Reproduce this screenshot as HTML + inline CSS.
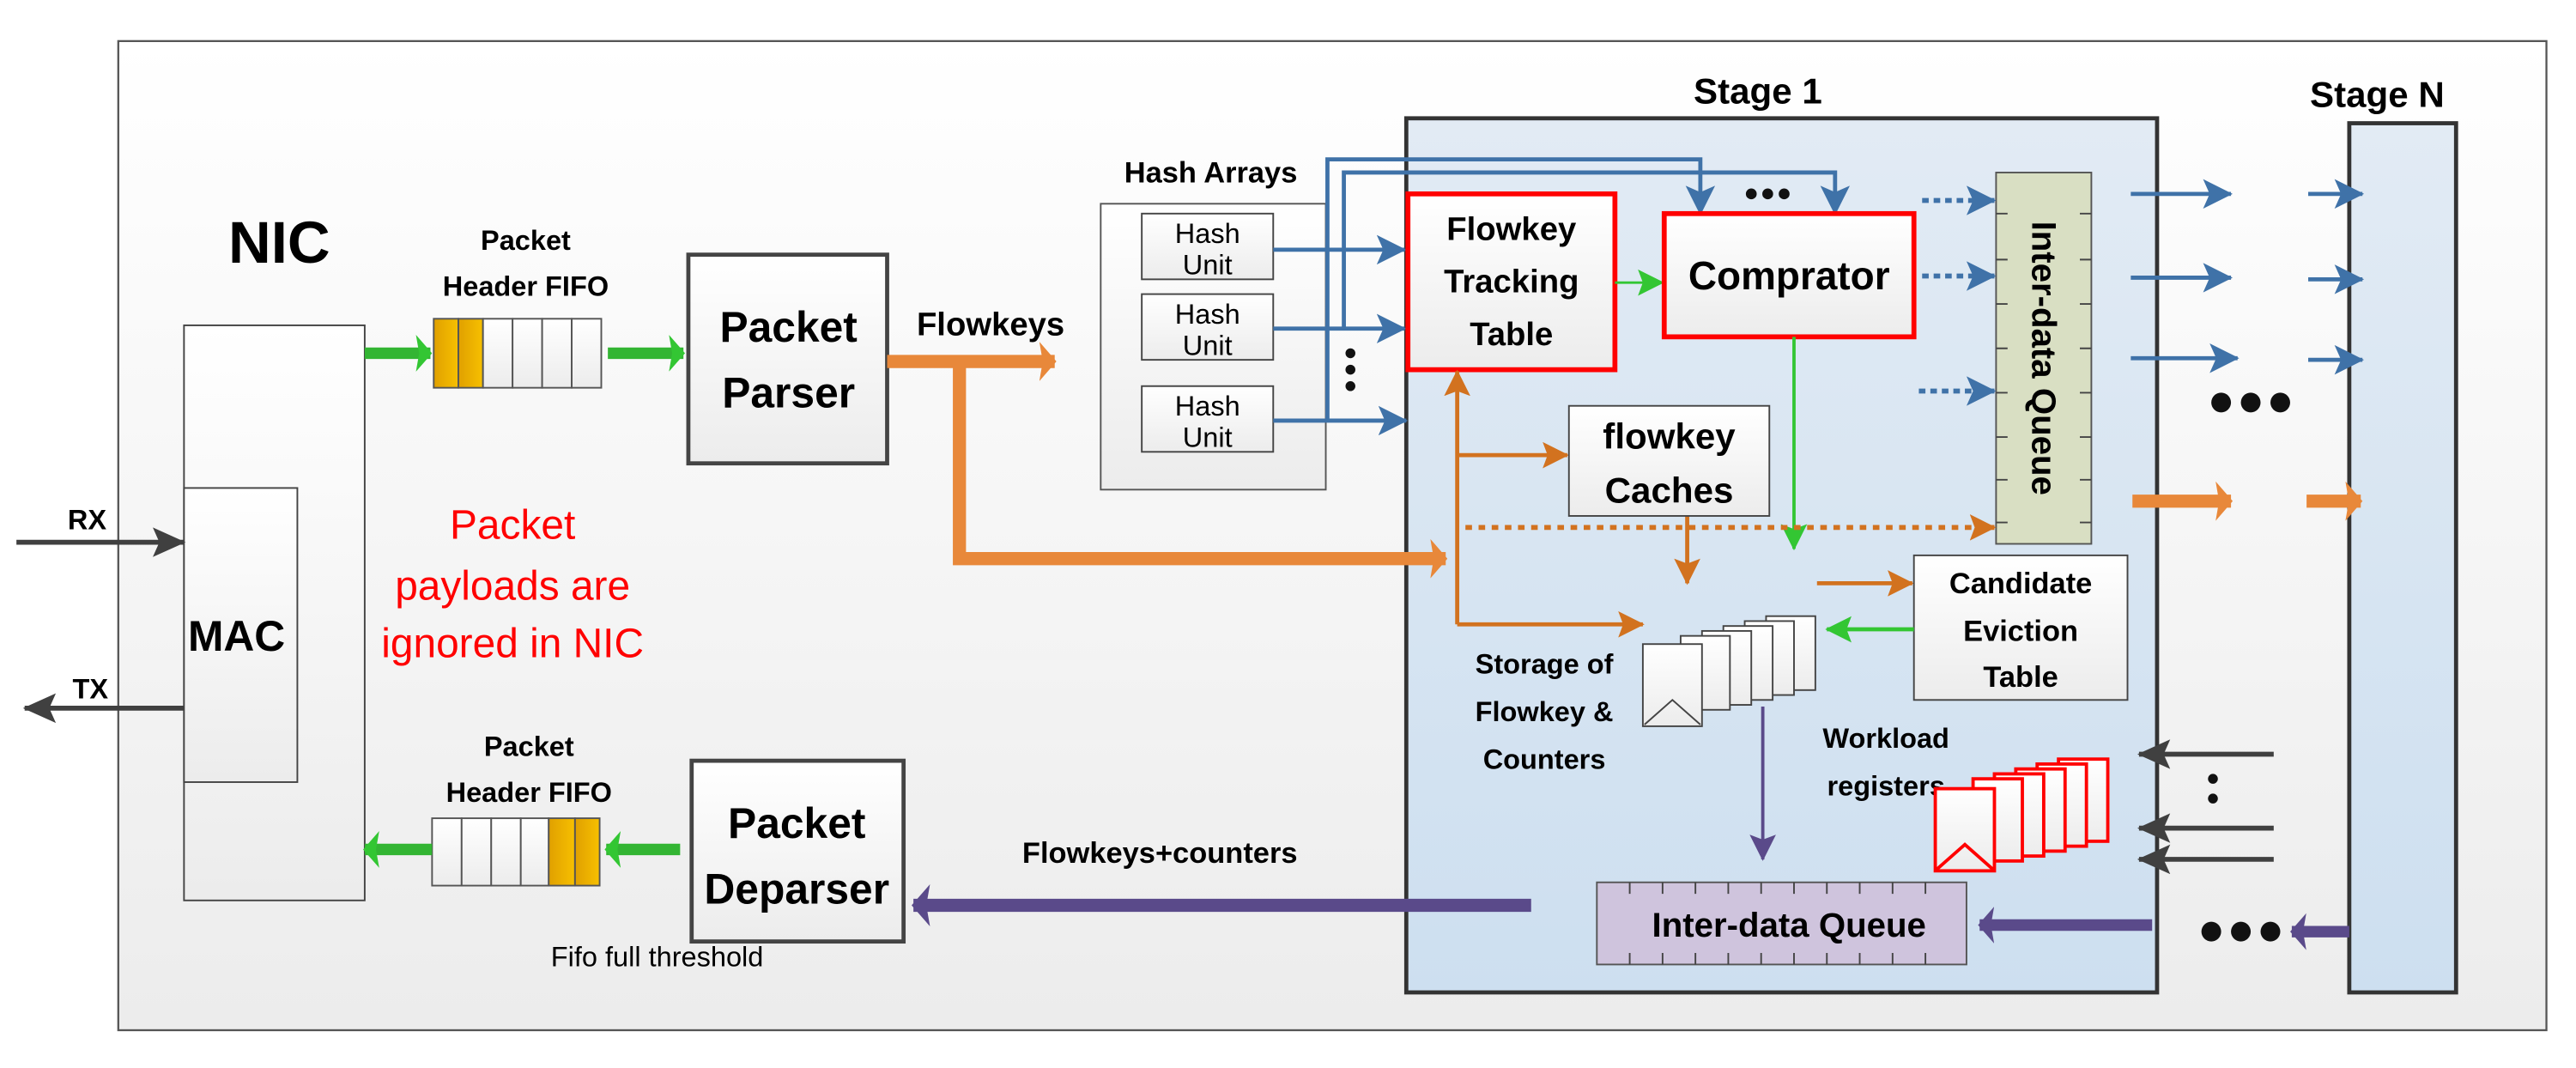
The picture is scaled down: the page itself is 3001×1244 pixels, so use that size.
<!DOCTYPE html>
<html><head><meta charset="utf-8"><style>
html,body{margin:0;padding:0;background:#fff}
svg{display:block}
text{font-family:"Liberation Sans",sans-serif}
.b{font-weight:bold}
</style></head><body>
<svg width="3001" height="1244" viewBox="0 0 1568 650" preserveAspectRatio="none" xmlns="http://www.w3.org/2000/svg">
<defs>
<linearGradient id="g1" x1="0" y1="0" x2="0" y2="1"><stop offset="0" stop-color="#ffffff"/><stop offset="1" stop-color="#ececec"/></linearGradient>
<linearGradient id="gb" x1="0" y1="0" x2="0" y2="1"><stop offset="0" stop-color="#e2ebf4"/><stop offset="1" stop-color="#cddff0"/></linearGradient>
<linearGradient id="gor" x1="0" y1="0" x2="1" y2="0"><stop offset="0" stop-color="#e0a000"/><stop offset="1" stop-color="#f7c000"/></linearGradient>
<marker id="abB" markerWidth="18" markerHeight="18" refX="17" refY="9" orient="auto" markerUnits="userSpaceOnUse"><path d="M0,0 L18,9 L0,18 L4,9z" fill="#3f72a8"/></marker>
<marker id="ao" markerWidth="16" markerHeight="16" refX="15" refY="8" orient="auto" markerUnits="userSpaceOnUse"><path d="M0,0 L16,8 L0,16 L3,8z" fill="#d2721f"/></marker>
<marker id="ag" markerWidth="16" markerHeight="16" refX="15" refY="8" orient="auto" markerUnits="userSpaceOnUse"><path d="M0,0 L16,8 L0,16 L3,8z" fill="#33c633"/></marker>
<marker id="ap" markerWidth="16" markerHeight="16" refX="15" refY="8" orient="auto" markerUnits="userSpaceOnUse"><path d="M0,0 L16,8 L0,16 L3,8z" fill="#5a4a8a"/></marker>
<marker id="ak" markerWidth="20" markerHeight="18" refX="19" refY="9" orient="auto" markerUnits="userSpaceOnUse"><path d="M0,0 L20,9 L0,18 L4,9z" fill="#404040"/></marker>
<marker id="agT" viewBox="0 0 10 20" markerWidth="1.4" markerHeight="3.2" refX="9" refY="10" orient="auto" preserveAspectRatio="none"><path d="M0,0 L10,10 L0,20 L2,10z" fill="#33c633"/></marker>
<marker id="aoT" viewBox="0 0 10 20" markerWidth="1.3" markerHeight="3" refX="9" refY="10" orient="auto" preserveAspectRatio="none"><path d="M0,0 L10,10 L0,20 L2,10z" fill="#e8883a"/></marker>
<marker id="apT" viewBox="0 0 10 20" markerWidth="1.4" markerHeight="3.2" refX="9" refY="10" orient="auto" preserveAspectRatio="none"><path d="M0,0 L10,10 L0,20 L2,10z" fill="#5a4a8a"/></marker>
</defs>
<rect x="72" y="25" width="1478" height="602" fill="url(#g1)" stroke="#555" stroke-width="1.2"/>
<text x="170" y="160" class="b" font-size="36" text-anchor="middle">NIC</text>
<rect x="112" y="198" width="110" height="350" fill="url(#g1)" stroke="#444" stroke-width="1"/>
<rect x="112" y="297" width="69" height="179" fill="url(#g1)" stroke="#444" stroke-width="1"/>
<text x="144" y="396" class="b" font-size="26" text-anchor="middle">MAC</text>
<line x1="10" y1="330" x2="112" y2="330" stroke="#404040" stroke-width="3" marker-end="url(#ak)"/>
<text x="53" y="322" class="b" font-size="17" text-anchor="middle">RX</text>
<line x1="112" y1="431" x2="15" y2="431" stroke="#404040" stroke-width="3" marker-end="url(#ak)"/>
<text x="55" y="425" class="b" font-size="17" text-anchor="middle">TX</text>
<g fill="#ff0000" font-size="25" text-anchor="middle">
<text x="312" y="328">Packet</text><text x="312" y="365">payloads are</text><text x="312" y="400">ignored in NIC</text></g>
<text x="320" y="152" class="b" font-size="17" text-anchor="middle">Packet</text>
<text x="320" y="180" class="b" font-size="17" text-anchor="middle">Header FIFO</text>
<g stroke="#555" stroke-width="1">
<rect x="264" y="194" width="15" height="42" fill="url(#gor)"/><rect x="279" y="194" width="15" height="42" fill="url(#gor)"/>
<rect x="294" y="194" width="18" height="42" fill="url(#g1)"/><rect x="312" y="194" width="18" height="42" fill="url(#g1)"/><rect x="330" y="194" width="18" height="42" fill="url(#g1)"/><rect x="348" y="194" width="18" height="42" fill="url(#g1)"/>
</g>
<line x1="222" y1="215" x2="262" y2="215" stroke="#33b533" stroke-width="7" marker-end="url(#agT)"/>
<line x1="370" y1="215" x2="416" y2="215" stroke="#33b533" stroke-width="7" marker-end="url(#agT)"/>
<rect x="419" y="155" width="121" height="127" fill="url(#g1)" stroke="#444" stroke-width="2.5"/>
<text x="480" y="208" class="b" font-size="26" text-anchor="middle">Packet</text>
<text x="480" y="248" class="b" font-size="26" text-anchor="middle">Parser</text>
<text x="603" y="204" class="b" font-size="20" text-anchor="middle">Flowkeys</text>
<text x="737" y="111" class="b" font-size="18" text-anchor="middle">Hash Arrays</text>
<rect x="670" y="124" width="137" height="174" fill="url(#g1)" stroke="#555" stroke-width="1"/>
<g stroke="#444" stroke-width="1" fill="url(#g1)">
<rect x="695" y="130" width="80" height="40"/><rect x="695" y="179" width="80" height="40"/><rect x="695" y="235" width="80" height="40"/></g>
<g font-size="17" text-anchor="middle"><text x="735" y="148">Hash</text><text x="735" y="167">Unit</text><text x="735" y="197">Hash</text><text x="735" y="216">Unit</text><text x="735" y="253">Hash</text><text x="735" y="272">Unit</text></g>
<text x="1070" y="63" class="b" font-size="22" text-anchor="middle">Stage 1</text>
<rect x="856" y="72" width="457" height="532" fill="url(#gb)" stroke="#333" stroke-width="2.5"/>
<path d="M584,220 V340 H880" fill="none" stroke="#e8883a" stroke-width="8" marker-end="url(#aoT)"/>
<line x1="540" y1="220" x2="642" y2="220" stroke="#e8883a" stroke-width="8" marker-end="url(#aoT)"/>
<g fill="none" stroke="#3f72a8" stroke-width="2.5">
<line x1="775" y1="152" x2="855" y2="152" marker-end="url(#abB)"/>
<line x1="775" y1="200" x2="855" y2="200" marker-end="url(#abB)"/>
<line x1="775" y1="256" x2="856" y2="256" marker-end="url(#abB)"/>
<path d="M808,256 V97 H1035 V130" marker-end="url(#abB)"/>
<path d="M818,200 V105 H1117 V130" marker-end="url(#abB)"/>
</g>
<g fill="#111"><circle cx="822" cy="215" r="3"/><circle cx="822" cy="225" r="3"/><circle cx="822" cy="235" r="3"/>
<circle cx="1066" cy="118" r="3.3"/><circle cx="1076" cy="118" r="3.3"/><circle cx="1086" cy="118" r="3.3"/></g>
<rect x="857" y="118" width="126" height="107" fill="url(#g1)" stroke="#ff0000" stroke-width="3"/>
<g class="b" font-size="20" text-anchor="middle"><text x="920" y="146">Flowkey</text><text x="920" y="178">Tracking</text><text x="920" y="210">Table</text></g>
<line x1="983" y1="172" x2="1012" y2="172" stroke="#33c633" stroke-width="1.5" marker-end="url(#ag)"/>
<rect x="1013" y="130" width="152" height="75" fill="url(#g1)" stroke="#ff0000" stroke-width="3"/>
<text x="1089" y="176" class="b" font-size="24" text-anchor="middle">Comprator</text>
<line x1="1092" y1="205" x2="1092" y2="334" stroke="#33c633" stroke-width="2" marker-end="url(#ag)"/>
<rect x="1215" y="105" width="58" height="226" fill="#d9dfc3" stroke="#555" stroke-width="1"/>
<g stroke="#444" stroke-width="1">
<path d="M1215,130h7M1266,130h7M1215,158h7M1266,158h7M1215,185h7M1266,185h7M1215,212h7M1266,212h7M1215,239h7M1266,239h7M1215,266h7M1266,266h7M1215,292h7M1266,292h7M1215,318h7M1266,318h7"/>
</g>
<text transform="translate(1237,218) rotate(90)" class="b" font-size="21" text-anchor="middle">Inter-data Queue</text>
<g stroke="#3f72a8" stroke-width="3" stroke-dasharray="4,3">
<line x1="1170" y1="122" x2="1214" y2="122" marker-end="url(#abB)"/>
<line x1="1170" y1="168" x2="1214" y2="168" marker-end="url(#abB)"/>
<line x1="1168" y1="238" x2="1214" y2="238" marker-end="url(#abB)"/></g>
<g fill="none" stroke="#d2721f" stroke-width="2.5">
<path d="M887,380 V226" marker-end="url(#ao)"/>
<line x1="887" y1="277" x2="954" y2="277" marker-end="url(#ao)"/>
<line x1="887" y1="380" x2="1000" y2="380" marker-end="url(#ao)"/>
<line x1="1027" y1="314" x2="1027" y2="355" marker-end="url(#ao)"/>
<line x1="1106" y1="355" x2="1164" y2="355" marker-end="url(#ao)"/>
<line x1="892" y1="321" x2="1214" y2="321" stroke-dasharray="4,4" stroke-width="3" marker-end="url(#ao)"/>
</g>
<rect x="955" y="247" width="122" height="67" fill="url(#g1)" stroke="#444" stroke-width="1"/>
<g class="b" font-size="22" text-anchor="middle"><text x="1016" y="273">flowkey</text><text x="1016" y="306">Caches</text></g>
<rect x="1165" y="338" width="130" height="88" fill="url(#g1)" stroke="#444" stroke-width="1"/>
<g class="b" font-size="18" text-anchor="middle"><text x="1230" y="361">Candidate</text><text x="1230" y="390">Eviction</text><text x="1230" y="418">Table</text></g>
<line x1="1165" y1="383" x2="1112" y2="383" stroke="#33c633" stroke-width="2.5" marker-end="url(#ag)"/>
<g stroke="#444" stroke-width="1" fill="url(#g1)">
<rect x="1075" y="375" width="30" height="45"/><rect x="1062" y="378" width="30" height="45"/><rect x="1049" y="381" width="30" height="45"/><rect x="1036" y="384" width="30" height="45"/><rect x="1023" y="387" width="30" height="45"/><rect x="1000" y="392" width="36" height="50"/></g>
<path d="M1001,441 L1018,426 L1035,441" fill="none" stroke="#444" stroke-width="1"/>
<g class="b" font-size="17" text-anchor="middle"><text x="940" y="410">Storage of</text><text x="940" y="439">Flowkey &amp;</text><text x="940" y="468">Counters</text></g>
<line x1="1073" y1="430" x2="1073" y2="523" stroke="#5a4a8a" stroke-width="2" marker-end="url(#ap)"/>
<g class="b" font-size="17" text-anchor="middle"><text x="1148" y="455">Workload</text><text x="1148" y="484">registers</text></g>
<g stroke="#ff0000" stroke-width="2" fill="url(#g1)">
<rect x="1253" y="462" width="30" height="50"/><rect x="1240" y="465" width="30" height="50"/><rect x="1227" y="468" width="30" height="50"/><rect x="1214" y="471" width="30" height="50"/><rect x="1201" y="474" width="30" height="50"/><rect x="1178" y="480" width="36" height="50"/></g>
<path d="M1179,529 L1196,514 L1213,529" fill="none" stroke="#ff0000" stroke-width="2"/>
<rect x="972" y="537" width="225" height="50" fill="#cfc4dd" stroke="#555" stroke-width="1"/>
<g stroke="#444" stroke-width="1">
<path d="M992,537v7M1012,537v7M1032,537v7M1052,537v7M1072,537v7M1092,537v7M1112,537v7M1132,537v7M1152,537v7M1172,537v7M992,587v-7M1012,587v-7M1032,587v-7M1052,587v-7M1072,587v-7M1092,587v-7M1112,587v-7M1132,587v-7M1152,587v-7M1172,587v-7"/></g>
<text x="1089" y="570" class="b" font-size="21" text-anchor="middle">Inter-data Queue</text>
<line x1="1310" y1="563" x2="1205" y2="563" stroke="#5a4a8a" stroke-width="7" marker-end="url(#apT)"/>
<text x="1447" y="65" class="b" font-size="22" text-anchor="middle">Stage N</text>
<rect x="1430" y="75" width="65" height="529" fill="url(#gb)" stroke="#333" stroke-width="2.5"/>
<g stroke="#3f72a8" stroke-width="2.5">
<line x1="1297" y1="118" x2="1358" y2="118" marker-end="url(#abB)"/>
<line x1="1297" y1="169" x2="1358" y2="169" marker-end="url(#abB)"/>
<line x1="1297" y1="218" x2="1362" y2="218" marker-end="url(#abB)"/>
<line x1="1405" y1="118" x2="1438" y2="118" marker-end="url(#abB)"/>
<line x1="1405" y1="170" x2="1438" y2="170" marker-end="url(#abB)"/>
<line x1="1405" y1="219" x2="1438" y2="219" marker-end="url(#abB)"/></g>
<g fill="#111"><circle cx="1352" cy="245" r="6"/><circle cx="1370" cy="245" r="6"/><circle cx="1388" cy="245" r="6"/>
<circle cx="1346" cy="567" r="6"/><circle cx="1364" cy="567" r="6"/><circle cx="1382" cy="567" r="6"/>
<circle cx="1347" cy="474" r="3"/><circle cx="1347" cy="486" r="3"/></g>
<line x1="1298" y1="305" x2="1358" y2="305" stroke="#e8883a" stroke-width="8" marker-end="url(#aoT)"/>
<line x1="1404" y1="305" x2="1437" y2="305" stroke="#e8883a" stroke-width="8" marker-end="url(#aoT)"/>
<g stroke="#404040" stroke-width="3">
<line x1="1384" y1="459" x2="1302" y2="459" marker-end="url(#ak)"/>
<line x1="1384" y1="504" x2="1302" y2="504" marker-end="url(#ak)"/>
<line x1="1384" y1="523" x2="1302" y2="523" marker-end="url(#ak)"/></g>
<line x1="1430" y1="567" x2="1395" y2="567" stroke="#5a4a8a" stroke-width="7" marker-end="url(#apT)"/>
<line x1="932" y1="551" x2="556" y2="551" stroke="#5a4a8a" stroke-width="8" marker-end="url(#apT)"/>
<text x="706" y="525" class="b" font-size="18" text-anchor="middle">Flowkeys+counters</text>
<rect x="421" y="463" width="129" height="110" fill="url(#g1)" stroke="#444" stroke-width="2.5"/>
<text x="485" y="510" class="b" font-size="26" text-anchor="middle">Packet</text>
<text x="485" y="550" class="b" font-size="26" text-anchor="middle">Deparser</text>
<text x="400" y="588" font-size="17" text-anchor="middle">Fifo full threshold</text>
<text x="322" y="460" class="b" font-size="17" text-anchor="middle">Packet</text>
<text x="322" y="488" class="b" font-size="17" text-anchor="middle">Header FIFO</text>
<g stroke="#555" stroke-width="1">
<rect x="263" y="498" width="18" height="41" fill="url(#g1)"/><rect x="281" y="498" width="18" height="41" fill="url(#g1)"/><rect x="299" y="498" width="18" height="41" fill="url(#g1)"/><rect x="317" y="498" width="17" height="41" fill="url(#g1)"/>
<rect x="334" y="498" width="16" height="41" fill="url(#gor)"/><rect x="350" y="498" width="15" height="41" fill="url(#gor)"/></g>
<line x1="414" y1="517" x2="369" y2="517" stroke="#33b533" stroke-width="7" marker-end="url(#agT)"/>
<line x1="263" y1="517" x2="222" y2="517" stroke="#33b533" stroke-width="7" marker-end="url(#agT)"/>
</svg>
</body></html>
